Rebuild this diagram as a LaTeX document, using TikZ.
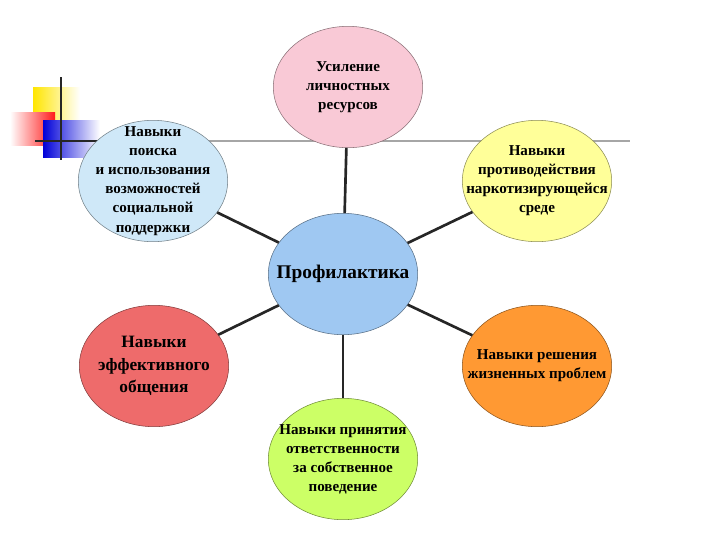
\documentclass[tikz,border=0pt]{standalone}
\usepackage{fontspec}
\setmainfont{Liberation Serif}
\usetikzlibrary{shapes.geometric}
\definecolor{cpink}{HTML}{F9C9D6}
\definecolor{cblue}{HTML}{CFE8F8}
\definecolor{cyel}{HTML}{FFFF99}
\definecolor{ccen}{HTML}{9FC8F2}
\definecolor{cred}{HTML}{EE6B6B}
\definecolor{corg}{HTML}{FF9933}
\definecolor{cgrn}{HTML}{CCFF66}
\tikzset{
 circ/.style={ellipse, draw=#1!55!black, fill=#1, minimum width=112pt, minimum height=91pt, inner sep=0pt},
 lbl/.style={align=center, font=\bfseries\fontsize{11.3}{14.3}\selectfont},
 link/.style={line width=2pt, black!85}
}
\begin{document}
\begin{tikzpicture}[x=0.75pt,y=-0.75pt]
\useasboundingbox (0,0) rectangle (720,540);
% decor
\shade[left color=yellow!80!orange, right color=white] (33,87) rectangle (80,123);
\shade[left color=white, right color=red!90] (10,112) rectangle (55,145);
\shade[left color=blue!85!black, right color=white] (43,120) rectangle (100,157);
\draw[gray!70, line width=1.5pt] (100,141) -- (630,141);
\draw[black!85, line width=2.2pt] (35,141) -- (100,141);
\draw[black!85, line width=2.2pt] (61,77) -- (61,160);
% shapes
\node[circ=ccen] (c) at (343,274) {};
\node[circ=cpink] (t) at (348,87) {};
\node[circ=cblue] (tl) at (153,181) {};
\node[circ=cyel] (tr) at (537,181) {};
\node[circ=cred] (l) at (154,366) {};
\node[circ=corg] (r) at (537,366) {};
\node[circ=cgrn] (b) at (343,459) {};
\foreach \n in {t,tl,tr,l,r,b} \draw[link] (c) -- (\n);
% labels
\node[lbl] (ct) at (c) {\fontsize{14.5}{16}\selectfont Профилактика};
\node[lbl] (tt) at (t) {Усиление\\личностных\\ресурсов};
\node[lbl] (tlt) at (tl) {Навыки\\поиска\\и использования\\возможностей\\социальной\\поддержки};
\node[lbl] (trt) at (tr) {Навыки\\противодействия\\наркотизирующейся\\среде};
\node[lbl, font=\bfseries\fontsize{13}{17}\selectfont] (lt) at (l) {Навыки\\эффективного\\общения};
\node[lbl] (rt) at (r) {Навыки решения\\жизненных проблем};
\node[lbl] (bt) at (b) {Навыки принятия\\ответственности\\за собственное\\поведение};
\end{tikzpicture}
\end{document}
